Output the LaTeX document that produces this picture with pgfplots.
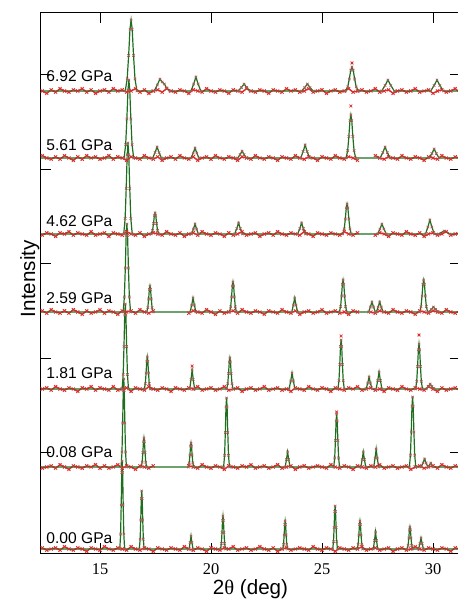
\documentclass[border=0pt]{standalone}
\usepackage{pgfplots}
\pgfplotsset{compat=1.18}
\usepackage{pgfplotstable}
\usepackage{fontspec}
\setmainfont{Liberation Sans}
\newfontfamily\seriffont{Liberation Serif}
\definecolor{obsred}{RGB}{220,45,45}
\definecolor{pkmark}{RGB}{160,95,85}
\definecolor{fitgreen}{RGB}{30,110,30}

% baseline noise of the observed patterns (pixel units), one column per pressure
\pgfplotstableread{
x n0 n1 n2 n3 n4 n5 n6
12.4 1 -1 0 1 -1 2 0
12.6 -1 0 1 -1 1 0 -2
12.8 0 1 -1 2 0 -1 1
13.0 1 -1 2 0 -2 1 -1
13.2 -1 2 0 -1 1 -1 2
13.4 2 0 -1 1 0 2 0
13.6 0 -2 1 -1 2 0 -1
13.8 -1 1 0 2 -1 -2 1
14.0 1 0 -2 0 1 1 0
14.2 0 -1 1 -2 0 -1 2
14.4 -2 1 0 1 -1 2 -1
14.6 1 0 2 -1 2 0 1
14.8 0 2 -1 0 -1 1 -2
15.0 -1 -1 1 2 0 -1 0
15.2 2 1 0 -1 1 0 1
15.4 0 -1 -1 1 -2 2 -1
15.6 -1 0 2 0 1 -1 2
15.8 1 2 -1 -2 0 1 0
16.0 0 -1 0 1 -1 0 1
16.2 -1 1 1 0 2 -2 -1
16.4 2 0 -2 1 0 1 0
16.6 0 -2 1 -1 -1 0 2
16.8 -1 1 0 2 1 -1 -1
17.0 1 0 -1 0 -2 2 1
17.2 0 -1 2 -1 0 0 -2
17.4 -2 1 0 1 1 -1 0
17.6 1 nan -1 nan 0 1 1
17.8 0 nan 1 nan -1 -2 -1
18.0 -1 nan 0 nan 2 0 2
18.2 1 nan -2 nan 0 1 0
18.4 0 nan 1 nan -1 -1 -1
18.6 -1 nan 0 nan 1 2 1
18.8 2 nan -1 nan -2 0 0
19.0 0 1 1 -1 0 -1 -2
19.2 -1 0 0 1 1 1 1
19.4 1 -1 2 0 -1 -2 0
19.6 0 2 -1 -1 2 0 -1
19.8 -2 0 0 2 0 1 2
20.0 1 -1 1 0 -1 -1 0
20.2 0 1 -1 -2 1 2 -1
20.4 -1 0 0 1 0 0 1
20.6 1 -2 2 -1 -2 -1 0
20.8 0 1 -1 0 1 1 -2
21.0 2 0 0 1 -1 0 1
21.2 -1 -1 1 -1 0 -2 0
21.4 0 1 -2 2 2 1 -1
21.6 1 0 0 0 -1 0 2
21.8 -1 2 1 -1 0 -1 0
22.0 0 -1 -1 1 1 2 -1
22.2 2 0 0 0 -2 0 1
22.4 0 1 2 -2 0 -1 0
22.6 -1 -1 -1 1 1 1 -2
22.8 1 0 0 0 -1 0 1
23.0 -2 2 1 -1 2 -2 0
23.2 0 -1 -1 2 0 1 -1
23.4 1 0 0 0 -1 0 2
23.6 -1 1 -2 -1 1 -1 0
23.8 0 -2 1 1 0 2 1
24.0 1 0 0 -2 -1 0 -1
24.2 0 1 -1 0 2 -1 0
24.4 -1 -1 2 1 0 1 2
24.6 2 0 0 -1 -2 0 -1
24.8 0 1 -1 0 1 -2 0
25.0 -1 0 1 2 0 1 1
25.2 1 -1 0 -1 -1 0 -2
25.4 0 2 -2 0 1 -1 0
25.6 -2 0 1 1 0 2 1
25.8 1 -1 0 -1 -1 0 -1
26.0 0 1 -1 0 2 -1 0
26.2 -1 0 1 -2 0 1 2
26.4 1 -2 0 1 -1 0 -1
26.6 0 1 2 0 1 -2 0
26.8 2 0 -1 nan nan nan 1
27.0 -1 -1 0 nan nan nan -1
27.2 0 1 1 0 nan nan 0
27.4 1 0 -1 -1 -1 2 2
27.6 -1 2 0 1 1 0 -1
27.8 0 -1 -2 0 0 -1 0
28.0 1 0 1 -1 -2 1 1
28.2 -2 1 0 2 1 0 -2
28.4 0 -1 -1 0 0 -1 0
28.6 1 0 2 -1 -1 2 1
28.8 -1 1 0 1 2 0 -1
29.0 0 -2 -1 0 0 -1 0
29.2 2 0 1 -2 -1 1 2
29.4 0 1 0 1 1 0 -1
29.6 -1 -1 -1 0 -2 -2 0
29.8 1 0 2 -1 0 1 1
30.0 0 1 0 1 1 0 -2
30.2 -1 -1 -2 0 -1 -1 0
30.4 1 2 1 -1 0 2 1
30.6 0 0 -1 2 2 0 -1
30.8 -2 -1 0 0 -1 -1 0
31.0 1 1 1 -1 0 1 2
31.2 0 0 -1 1 1 0 -1
}\noise

% 0.00 GPa
\pgfplotstableread{
x y
12.34 0
15.892 0
15.928 15
15.955 44
15.98 76.6
16.00 88
16.02 76.6
16.045 44
16.072 15
16.108 0
16.772 0
16.808 9.9
16.835 29
16.86 50.5
16.88 58
16.90 50.5
16.925 29
16.952 9.9
16.988 0
19.012 0
19.06 6.5
19.10 13
19.14 6.5
19.188 0
20.432 0
20.468 5.6
20.495 16.5
20.52 28.7
20.54 33
20.56 28.7
20.585 16.5
20.612 5.6
20.648 0
23.232 0
23.268 4.8
23.295 14
23.32 24.4
23.34 28
23.36 24.4
23.385 14
23.412 4.8
23.448 0
25.482 0
25.518 7.3
25.545 21.5
25.57 37.4
25.59 43
25.61 37.4
25.635 21.5
25.662 7.3
25.698 0
26.59 0
26.63 4.8
26.66 14
26.688 24.4
26.71 28
26.732 24.4
26.76 14
26.79 4.8
26.83 0
27.31 0
27.365 8.5
27.41 17
27.455 8.5
27.51 0
28.84 0
28.88 3.7
28.91 11
28.938 19.1
28.96 22
28.982 19.1
29.01 11
29.04 3.7
29.08 0
29.35 0
29.41 5.5
29.46 11
29.51 5.5
29.57 0
31.22 0
}\pkA

% 0.08 GPa
\pgfplotstableread{
x y
12.34 0
15.95 0
15.99 15
16.02 44
16.048 76.6
16.07 88
16.092 76.6
16.12 44
16.15 15
16.19 0
16.86 0
16.90 4.9
16.93 14.5
16.958 25.2
16.98 29
17.002 25.2
17.03 14.5
17.06 4.9
17.10 0
18.98 0
19.02 4.1
19.05 12
19.078 20.9
19.10 24
19.122 20.9
19.15 12
19.18 4.1
19.22 0
20.568 0
20.612 11.7
20.645 34.5
20.675 60
20.70 69
20.725 60
20.755 34.5
20.788 11.7
20.832 0
23.34 0
23.40 7.5
23.45 15
23.50 7.5
23.56 0
25.528 0
25.572 9
25.605 26.5
25.635 46.1
25.66 53
25.685 46.1
25.715 26.5
25.748 9
25.792 0
26.75 0
26.81 7.5
26.86 15
26.91 7.5
26.97 0
27.33 0
27.39 9
27.44 18
27.49 9
27.55 0
28.936 0
28.984 11.9
29.02 35
29.053 60.9
29.08 70
29.107 60.9
29.14 35
29.176 11.9
29.224 0
29.466 0
29.55 4
29.62 8
29.69 4
29.774 0
29.90 4
30.00 0
31.22 0
}\pkB

% 1.81 GPa
\pgfplotstableread{
x y
12.34 0
15.996 0
16.044 14.5
16.08 42.5
16.113 74
16.14 85
16.167 74
16.20 42.5
16.236 14.5
16.284 0
16.998 0
17.042 5.4
17.075 16
17.105 27.8
17.13 32
17.155 27.8
17.185 16
17.218 5.4
17.262 0
19.04 0
19.10 9.5
19.15 19
19.20 9.5
19.26 0
20.706 0
20.754 5.3
20.79 15.5
20.823 27
20.85 31
20.877 27
20.91 15.5
20.946 5.3
20.994 0
23.518 0
23.59 8
23.65 16
23.71 8
23.782 0
25.716 0
25.764 8.3
25.80 24.5
25.833 42.6
25.86 49
25.887 42.6
25.92 24.5
25.956 8.3
26.004 0
26.988 0
27.06 6
27.12 12
27.18 6
27.252 0
27.438 0
27.51 8.5
27.57 17
27.63 8.5
27.702 0
29.214 0
29.266 7.7
29.305 22.5
29.341 39.2
29.37 45
29.399 39.2
29.435 22.5
29.474 7.7
29.526 0
29.70 0
29.79 2.5
29.87 5
29.95 2.5
30.05 0
31.22 0
}\pkC

% 2.59 GPa
\pgfplotstableread{
x y
12.34 0
16.042 0
16.098 15
16.14 44
16.178 76.6
16.21 88
16.242 76.6
16.28 44
16.322 15
16.378 0
17.106 0
17.154 4.4
17.19 13
17.223 22.6
17.25 26
17.277 22.6
17.31 13
17.346 4.4
17.394 0
19.058 0
19.13 7
19.19 14
19.25 7
19.322 0
20.834 0
20.886 5.1
20.925 15
20.961 26.1
20.99 30
21.019 26.1
21.055 15
21.094 5.1
21.146 0
23.638 0
23.71 7
23.77 14
23.83 7
23.902 0
25.782 0
25.838 5.4
25.88 16
25.918 27.8
25.95 32
25.982 27.8
26.02 16
26.062 5.4
26.118 0
27.096 0
27.18 5
27.25 10
27.32 5
27.404 0
27.446 0
27.53 5
27.60 10
27.67 5
27.754 0
29.40 0
29.46 5.4
29.505 16
29.546 27.8
29.58 32
29.614 27.8
29.655 16
29.70 5.4
29.76 0
29.80 0
29.92 2.5
30.02 5
30.12 2.5
30.24 0
31.22 0
}\pkD

% 4.62 GPa
\pgfplotstableread{
x y
12.34 0
16.068 0
16.132 15.5
16.18 45.5
16.224 79.2
16.26 91
16.296 79.2
16.34 45.5
16.388 15.5
16.452 0
17.312 0
17.368 3.6
17.41 10.5
17.448 18.3
17.48 21
17.512 18.3
17.55 10.5
17.592 3.6
17.648 0
19.126 0
19.21 5
19.28 10
19.35 5
19.434 0
21.064 0
21.16 5.5
21.24 11
21.32 5.5
21.416 0
23.904 0
24.00 5.5
24.08 11
24.16 5.5
24.256 0
25.938 0
26.002 5.1
26.05 15
26.094 26.1
26.13 30
26.166 26.1
26.21 15
26.258 5.1
26.322 0
27.502 0
27.61 5
27.70 10
27.79 5
27.898 0
29.662 0
29.77 7
29.86 14
29.95 7
30.058 0
30.24 0
30.50 3
30.76 0
31.22 0
}\pkE

% 5.61 GPa
\pgfplotstableread{
x y
12.34 0
16.084 0
16.156 13.3
16.21 39
16.26 67.9
16.30 78
16.34 67.9
16.39 39
16.444 13.3
16.516 0
17.372 0
17.48 5.5
17.57 11
17.66 5.5
17.768 0
19.104 0
19.20 5
19.28 10
19.36 5
19.456 0
21.202 0
21.31 3.5
21.40 7
21.49 3.5
21.598 0
24.042 0
24.15 6.5
24.24 13
24.33 6.5
24.438 0
26.084 0
26.156 7.3
26.21 21.5
26.26 37.4
26.30 43
26.34 37.4
26.39 21.5
26.444 7.3
26.516 0
27.62 0
27.74 5.5
27.84 11
27.94 5.5
28.06 0
29.83 0
29.95 4.5
30.05 9
30.15 4.5
30.27 0
31.22 0
}\pkF

% 6.92 GPa
\pgfplotstableread{
x y
12.34 0
16.136 0
16.224 12.1
16.29 35.5
16.35 61.8
16.40 71
16.45 61.8
16.51 35.5
16.576 12.1
16.664 0
17.44 0
17.58 6
17.70 12
17.80 9
17.90 7
18.00 3
18.14 0
19.10 0
19.22 7
19.32 14
19.42 7
19.54 0
21.226 0
21.37 3.5
21.49 7
21.61 3.5
21.754 0
24.076 0
24.22 3.5
24.34 7
24.46 3.5
24.604 0
26.062 0
26.158 4.1
26.23 12
26.296 20.9
26.35 24
26.404 20.9
26.47 12
26.542 4.1
26.638 0
27.684 0
27.84 5.5
27.97 11
28.10 5.5
28.256 0
29.894 0
30.05 5.5
30.18 11
30.31 5.5
30.466 0
31.22 0
}\pkG

% observed points lying above the fitted peaks (absolute pixel height)
\pgfplotstableread{
x y
25.66 141
19.15 187
25.86 217
29.37 218
26.30 447
26.35 490
}\outl

\pgfplotsset{
  obsline/.style={color=obsred, line width=0.7pt, mark=x, mark size=1.1pt,
    mark options={solid, line width=0.4pt}},
  obspk/.style={only marks, color=pkmark, mark=x, mark size=0.85pt,
    mark options={solid, line width=0.35pt}},
  outmark/.style={only marks, color=obsred, mark=x, mark size=1pt,
    mark options={solid, line width=0.4pt}},
  fitline/.style={color=fitgreen, line width=0.6pt, no marks},
}

\begin{document}
\begin{tikzpicture}
\begin{axis}[
  name=ax,
  scale only axis,
  width=209.5pt, height=270pt,
  xmin=12.342, xmax=31.216,
  ymin=0, ymax=540,
  xtick={15,20,25,30},
  ytick={100,194.5,289,383.5,478},
  yticklabels={},
  major tick length=5pt,
  tick style={black, line width=0.5pt},
  axis line style={line width=0.5pt},
  /pgf/number format/assume math mode=true,
  xticklabel style={font=\seriffont\fontsize{8.2}{9}\selectfont, yshift=-2pt},
  unbounded coords=jump,
  xlabel={2{\seriffont θ} (deg)},
  ylabel={Intensity},
  xlabel style={font=\fontsize{10.3}{12}\selectfont, at={(axis description cs:0.5,0)}, anchor=base, yshift=-20.5pt, inner sep=0pt},
  ylabel style={font=\fontsize{10.3}{12}\selectfont, at={(axis description cs:-0.0143,0.508)}, anchor=base, inner sep=0pt},
]
% 0.00 GPa
\addplot[obsline] table[x=x, y expr=1.2*\thisrow{n0}+4] {\noise};
\addplot[obspk] table[x=x, y expr=\thisrow{y}+4] {\pkA};
\addplot[fitline] table[x=x, y expr=\thisrow{y}+4] {\pkA};
% 0.08 GPa
\addplot[obsline] table[x=x, y expr=1.2*\thisrow{n1}+86] {\noise};
\addplot[obspk] table[x=x, y expr=\thisrow{y}+86] {\pkB};
\addplot[fitline] table[x=x, y expr=\thisrow{y}+86] {\pkB};
% 1.81 GPa
\addplot[obsline] table[x=x, y expr=1.2*\thisrow{n2}+164] {\noise};
\addplot[obspk] table[x=x, y expr=\thisrow{y}+164] {\pkC};
\addplot[fitline] table[x=x, y expr=\thisrow{y}+164] {\pkC};
% 2.59 GPa
\addplot[obsline] table[x=x, y expr=1.2*\thisrow{n3}+241] {\noise};
\addplot[obspk] table[x=x, y expr=\thisrow{y}+241] {\pkD};
\addplot[fitline] table[x=x, y expr=\thisrow{y}+241] {\pkD};
% 4.62 GPa
\addplot[obsline] table[x=x, y expr=1.2*\thisrow{n4}+319] {\noise};
\addplot[obspk] table[x=x, y expr=\thisrow{y}+319] {\pkE};
\addplot[fitline] table[x=x, y expr=\thisrow{y}+319] {\pkE};
% 5.61 GPa
\addplot[obsline] table[x=x, y expr=1.2*\thisrow{n5}+395] {\noise};
\addplot[obspk] table[x=x, y expr=\thisrow{y}+395] {\pkF};
\addplot[fitline] table[x=x, y expr=\thisrow{y}+395] {\pkF};
% 6.92 GPa
\addplot[obsline] table[x=x, y expr=1.2*\thisrow{n6}+462] {\noise};
\addplot[obspk] table[x=x, y expr=\thisrow{y}+462] {\pkG};
\addplot[fitline] table[x=x, y expr=\thisrow{y}+462] {\pkG};
% outlying observed points
\addplot[outmark] table[x=x, y=y] {\outl};

\begin{scope}[every node/.style={anchor=base west, inner sep=0pt, font=\fontsize{7.8}{9}\selectfont}]
\node at (axis cs:12.57,471) {6.92 GPa};
\node at (axis cs:12.57,402) {5.61 GPa};
\node at (axis cs:12.57,326) {4.62 GPa};
\node at (axis cs:12.57,249) {2.59 GPa};
\node at (axis cs:12.57,174) {1.81 GPa};
\node at (axis cs:12.57,96) {0.08 GPa};
\node at (axis cs:12.57,10) {0.00 GPa};
\end{scope}
\end{axis}
\pgfresetboundingbox
\path[use as bounding box] (ax.south west) ++(-20.5pt,-23.5pt) rectangle ++(228.5pt,300pt);
\end{tikzpicture}
\end{document}
